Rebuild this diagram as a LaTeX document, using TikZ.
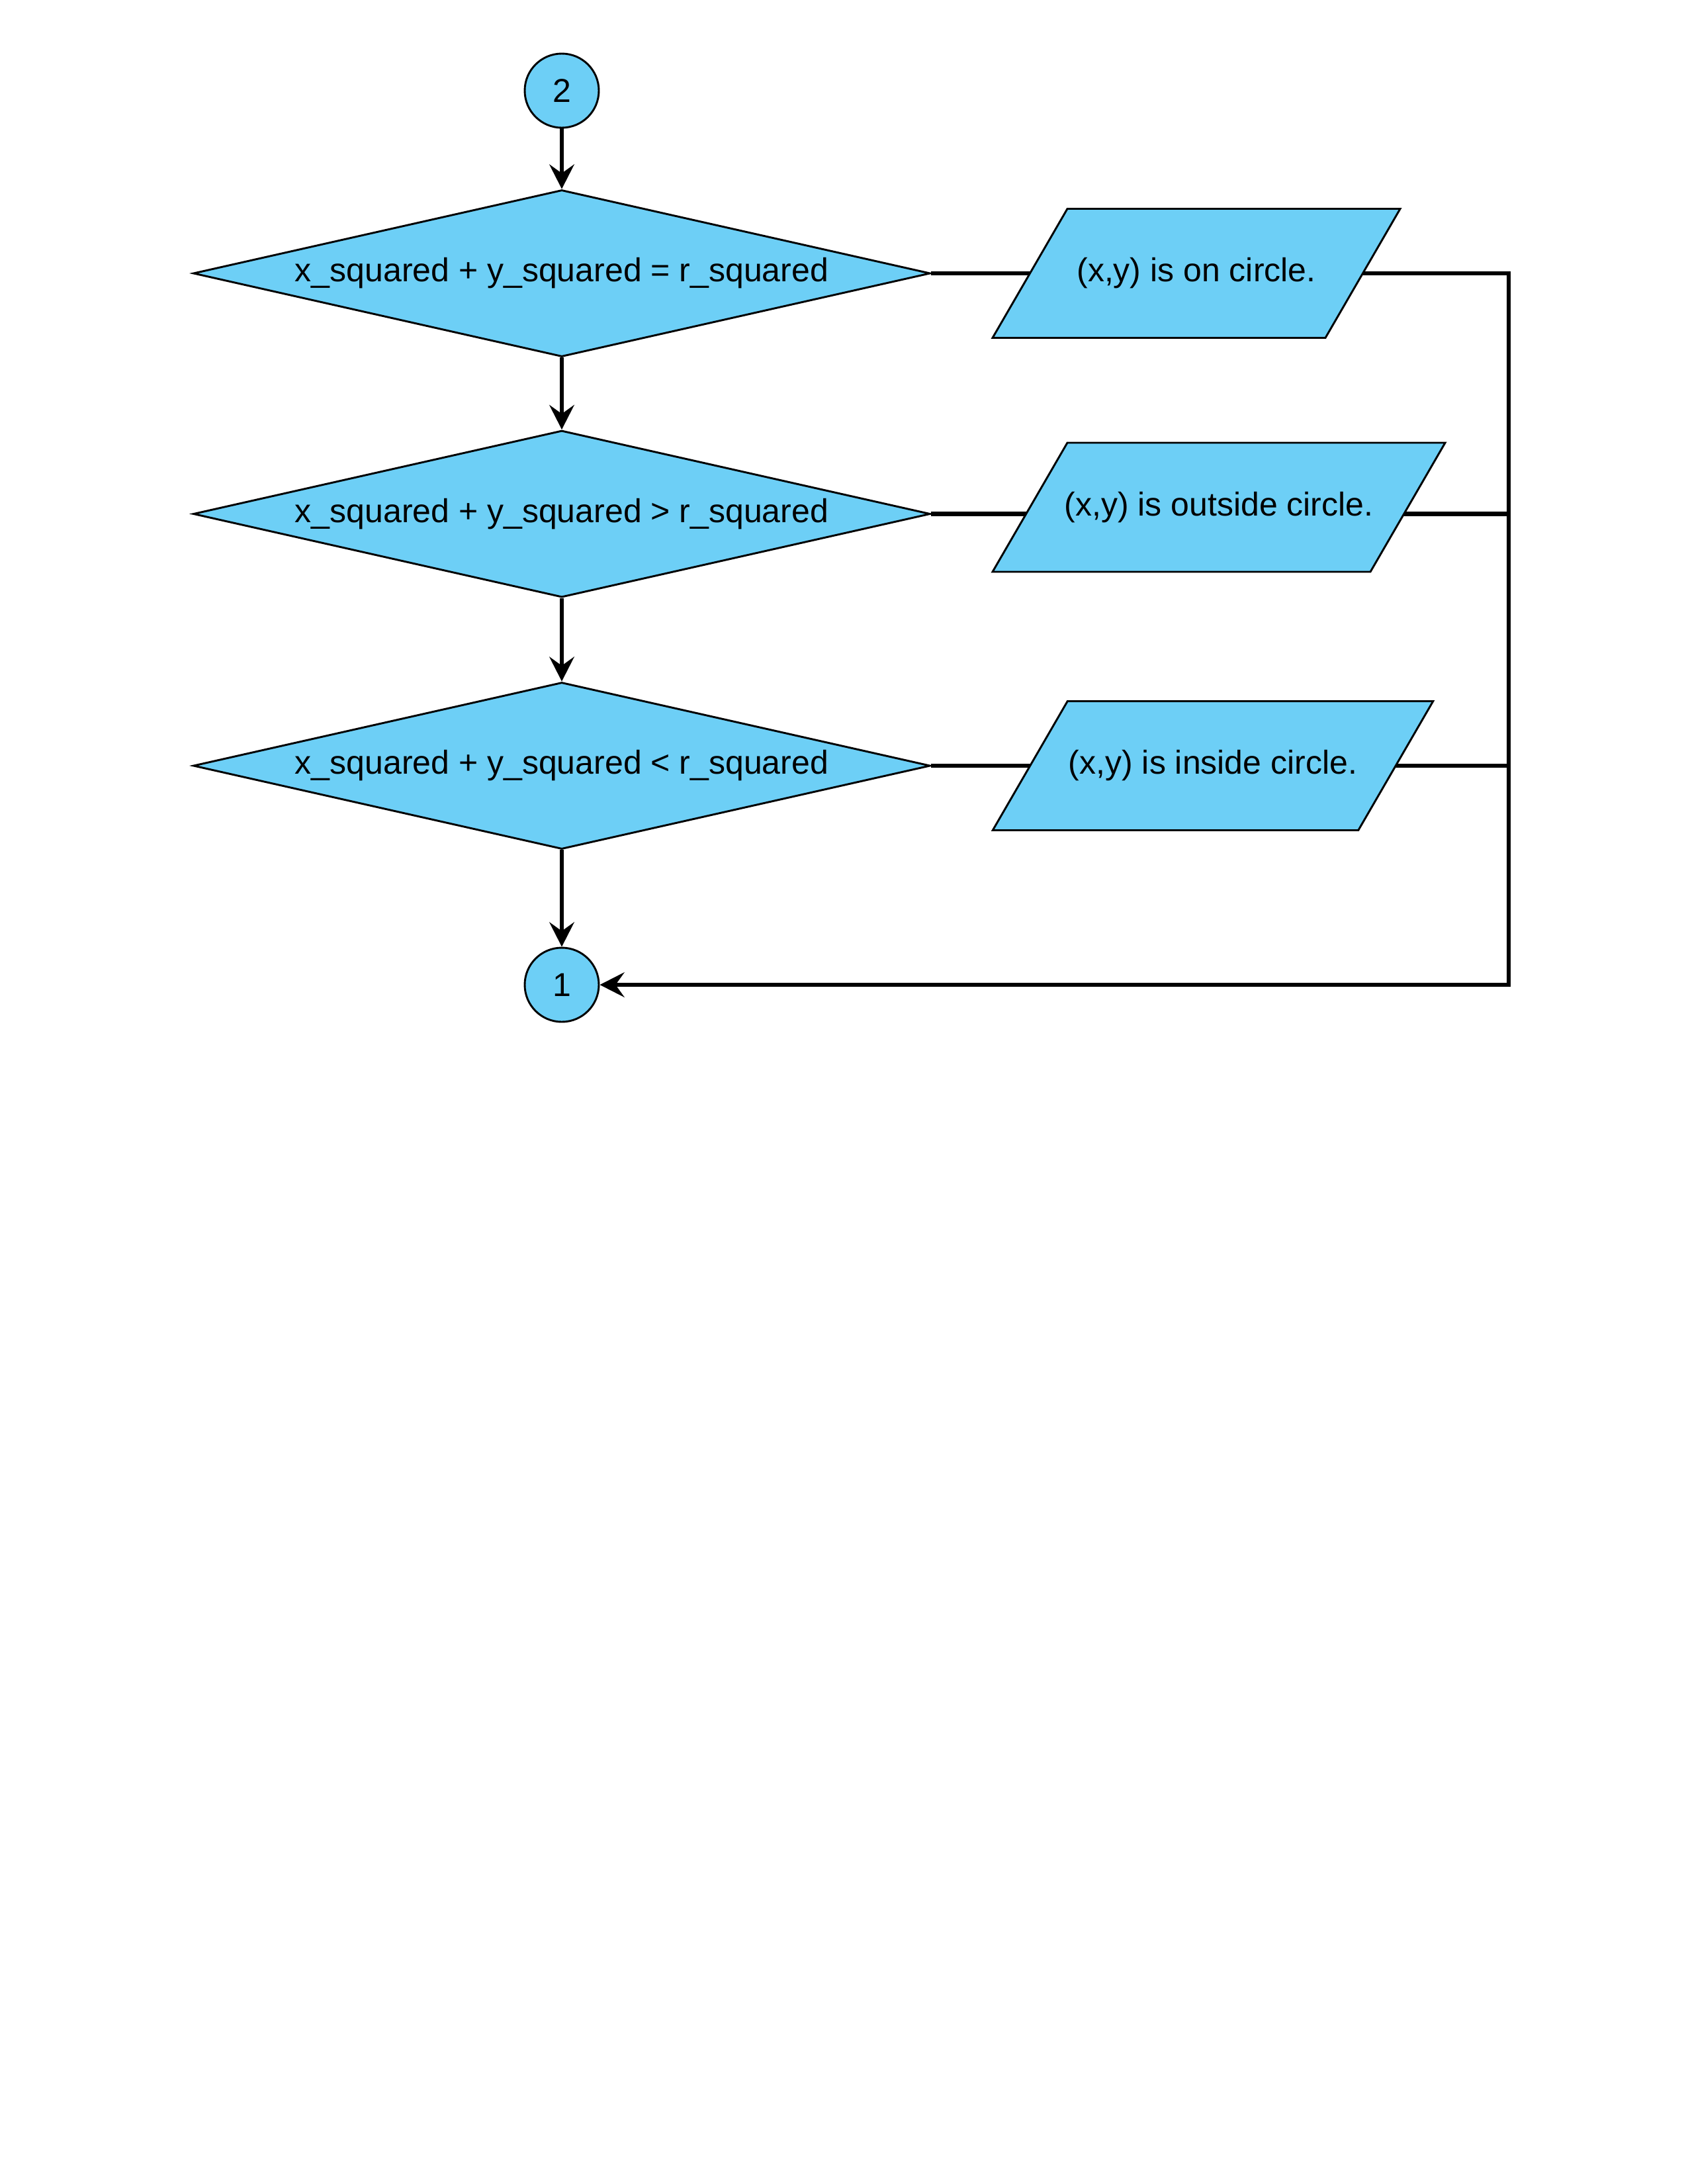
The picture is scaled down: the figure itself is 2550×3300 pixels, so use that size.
\documentclass[tikz,border=0pt]{standalone}
\usepackage{fontspec}
\setmainfont{Liberation Sans}
\usetikzlibrary{shapes.geometric,arrows.meta}
\definecolor{flowblue}{RGB}{109,207,246}
\newdimen\pxu
\pxu=0.24pt
\pgfdeclarelayer{bg}
\pgfdeclarelayer{mid}
\pgfsetlayers{bg,mid,main}
\begin{document}
\begin{tikzpicture}[x=0.24pt,y=-0.24pt,
  every node/.style={font=\fontsize{12}{14}\selectfont},
  shapeline/.style={draw=black,fill=flowblue,line width=0.7pt},
  connector/.style={draw=black,line width=1.45pt},
  arrowline/.style={connector,-{Stealth[length=8.9pt,width=9pt,inset=3.2pt]}},
  decision/.style={shapeline,diamond,aspect=4.4,inner sep=0pt,minimum width=1114\pxu,minimum height=252\pxu},
  terminal/.style={shapeline,circle,inner sep=0pt,minimum size=112\pxu},
  iotext/.style={inner sep=0pt,outer sep=0pt,minimum height=195\pxu},
  iobox/.style={shapeline}
]
\useasboundingbox (0,0) rectangle (2550,3300);
\begin{pgfonlayer}{bg}
  \fill[white] (0,0) rectangle (2550,3300);
\end{pgfonlayer}

% connector circles
\node[terminal] (c2) at (849,137) {2};
\node[terminal] (c1) at (849,1488) {1};

% decisions
\node[decision] (d1) at (849,413) {x\_squared + y\_squared = r\_squared};
\node[decision] (d2) at (849,776.5) {x\_squared + y\_squared > r\_squared};
\node[decision] (d3) at (849,1157) {x\_squared + y\_squared < r\_squared};

% outputs (text frames; parallelograms drawn below on mid layer)
\node[iotext,minimum width=503\pxu] (p1) at (1808,413) {(x,y) is on circle.};
\node[iotext,minimum width=571\pxu] (p2) at (1842,766.5) {(x,y) is outside circle.};
\node[iotext,minimum width=552.5\pxu] (p3) at (1833,1157) {(x,y) is inside circle.};

\begin{pgfonlayer}{mid}
  \foreach \p in {p1,p2,p3}{
    \draw[iobox] ([xshift=-56.5\pxu]\p.south west) -- ([xshift=-56.5\pxu]\p.south east)
      -- ([xshift=56.5\pxu]\p.north east) -- ([xshift=56.5\pxu]\p.north west) -- cycle;
  }
\end{pgfonlayer}

% bus coordinates
\coordinate (bus1) at (2280,413);
\coordinate (bus2) at (2280,776.5);
\coordinate (bus3) at (2280,1157);

% horizontal connectors (under the shapes)
\begin{pgfonlayer}{bg}
  \draw[connector] (d1.east) -- (d1.east -| p1.center);
  \draw[connector] (d2.east) -- (d2.east -| p2.center);
  \draw[connector] (d2.east -| p2.center) -- (bus2);
  \draw[connector] (d3.east) -- (d3.east -| p3.center);
  \draw[connector] (d3.east -| p3.center) -- (bus3);
\end{pgfonlayer}

% vertical flow arrows
\draw[arrowline] (c2) -- (d1);
\draw[arrowline] (d1) -- (d2);
\draw[arrowline] (d2) -- (d3);
\draw[arrowline] (d3) -- (c1);

% return bus
\draw[arrowline] (p1.east) -- (bus1) -- (bus1 |- c1.east) -- (c1.east);
\end{tikzpicture}
\end{document}
